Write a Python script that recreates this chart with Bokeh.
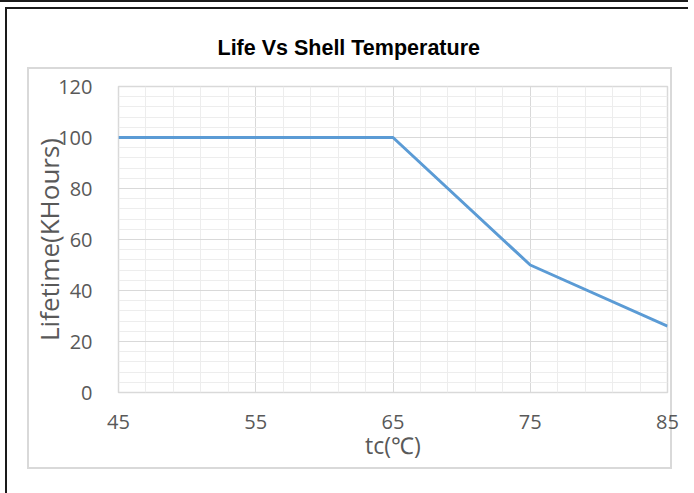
from bokeh.plotting import figure
from bokeh.models import Range1d, FixedTicker, InlineStyleSheet
from bokeh.embed import file_html
from bokeh.resources import INLINE

# ---- data ----
temps = [45, 65, 75, 85]
lifetime = [100, 100, 50, 26]
x_ticks = [45, 55, 65, 75, 85]
x_minor = [47, 49, 51, 53, 57, 59, 61, 63, 67, 69, 71, 73, 77, 79, 81, 83]
y_ticks = [0, 20, 40, 60, 80, 100, 120]
y_minor = [4, 8, 12, 16, 24, 28, 32, 36, 44, 48, 52, 56, 64, 68, 72, 76,
           84, 88, 92, 96, 104, 108, 112, 116]

W, H = 688, 493

bg = ("linear-gradient(#1a1a1a,#1a1a1a) 0px 0px / 694px 2px no-repeat, "
      "linear-gradient(#1a1a1a,#1a1a1a) 5px 7px / 689px 2px no-repeat, "
      "linear-gradient(#1a1a1a,#1a1a1a) 5px 7px / 2px 486px no-repeat, "
      "linear-gradient(#d9d9d9,#d9d9d9) 27px 67px / 645px 2px no-repeat, "
      "linear-gradient(#d9d9d9,#d9d9d9) 27px 467px / 645px 2px no-repeat, "
      "linear-gradient(#d9d9d9,#d9d9d9) 27px 67px / 2px 402px no-repeat, "
      "linear-gradient(#d9d9d9,#d9d9d9) 670px 67px / 2px 402px no-repeat, "
      "#ffffff")

css = ":host { background: %s; }" % bg

p = figure(width=W, height=H, x_range=Range1d(45, 85), y_range=Range1d(0, 120),
           output_backend="svg", toolbar_location=None,
           min_border_left=118, min_border_right=21,
           min_border_top=86, min_border_bottom=101,
           stylesheets=[InlineStyleSheet(css=css)])

p.line(temps, lifetime, line_color="#5B9BD5", line_width=3)

# title
p.title.text = "Life Vs Shell Temperature"
p.title.text_font = "Liberation Sans"
p.title.text_font_style = "bold"
p.title.text_font_size = "21.5px"
p.title.text_color = "#000000"
p.title.align = "left"
p.title.offset = 99
p.title.standoff = 54

# axes
p.xaxis.ticker = FixedTicker(ticks=x_ticks, minor_ticks=x_minor)
p.yaxis.ticker = FixedTicker(ticks=y_ticks, minor_ticks=y_minor)
for ax in (p.xaxis, p.yaxis):
    ax.axis_line_color = None
    ax.major_tick_line_color = None
    ax.minor_tick_line_color = None
    ax.major_label_text_font = "Open Sans"
    ax.major_label_text_font_size = "20px"
    ax.major_label_text_color = "#595959"
    ax.axis_label_text_font = "Open Sans"
    ax.axis_label_text_font_style = "normal"
    ax.axis_label_text_color = "#595959"
p.xaxis.axis_label = "tc(℃)"
p.yaxis.axis_label = "Lifetime(KHours)"
p.xaxis.axis_label_text_font_size = "23px"
p.yaxis.axis_label_text_font_size = "26px"
p.xaxis.major_label_standoff = 16
p.yaxis.major_label_standoff = 20
p.xaxis.axis_label_standoff = -3
p.yaxis.axis_label_standoff = -12

# grids
for g in (p.xgrid, p.ygrid):
    g.grid_line_color = "#D9D9D9"
    g.grid_line_width = 1
    g.minor_grid_line_color = "#EDEDED"
    g.minor_grid_line_width = 1

p.outline_line_color = "#D9D9D9"
p.outline_line_width = 1.5
p.background_fill_color = "white"
p.border_fill_color = None

open("out.html", "w").write(file_html(p, INLINE))
